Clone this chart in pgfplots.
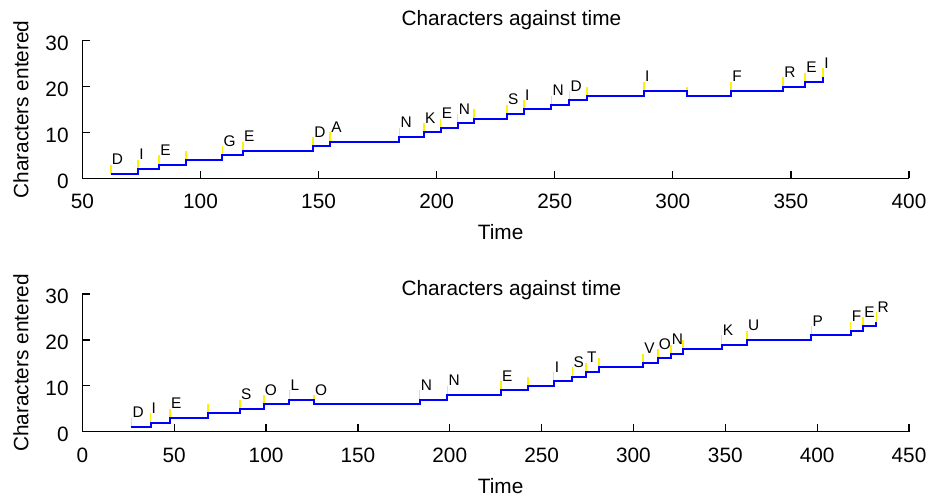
\documentclass[border=0pt]{standalone}
\usepackage{pgfplots}
\usepackage{pgfplotstable}
\pgfplotsset{compat=1.18}
\usepackage{fontspec}
\setmainfont{Liberation Sans}

\pgfplotstableread{
t n ly e lab
62.0  1  3 2 D
73.6  2  4 2 I
82.5  3  5 2 E
93.8  4  6 2 {}
109.3 5  7 2 G
118.0 6  8 2 E
147.7 7  9 2 D
154.9 8  10 2 A
184.2 9  11 2 N
194.6 10 12 2 K
201.7 11 13 2 E
208.9 12 14 2 N
215.9 13 15 2 {}
229.8 14 16 2 S
237.0 15 17 2 I
248.6 16 18 2 N
256.2 17 19 2 D
263.7 18 20 2 {}
287.8 19 21 2 I
305.9 18 20 2 {}
324.7 19 21 2 F
346.7 20 22 2 R
356.0 21 23 2 E
363.7 22 24 2 I
}\topdata

\pgfplotstableread{
t n ly e lab
26.7  1  3 2 D
37.1  2  4 2 I
47.6  3  5 2 E
68.4  4  6 2 {}
85.8  5  7 2 S
98.7  6  8 2 O
112.7 7  9 2 L
126.0 6  8 2 O
183.6 7  9 2 N
198.7 8  10 2 N
227.9 9  11 2 E
242.6 10 12 2 {}
256.5 11 13 2 I
266.8 12 14 2 S
274.1 13 15 2 T
281.2 14 16 2 {}
305.3 15 17 2 V
313.2 16 18 2 O
320.3 17 19 2 N
327.1 18 20 2 {}
348.0 19 21 2 K
361.7 20 22 2 U
396.9 21 23 2 P
418.2 22 24 2 F
425.1 23 25 2 E
432.2 24 26 2 R
}\botdata

\pgfplotsset{
  every axis title shift=0pt,
  charstyle/.style={
    scale only axis, width=413.3bp, height=68.8bp,
    ymin=0, ymax=30, ytick={0,10,20,30},
    axis x line*=bottom, axis y line*=left,
    axis line style={line width=0.6bp, black},
    tick style={line width=0.6bp, black},
    major tick length=3.75bp,
    clip=false,
    /pgf/number format/assume math mode=true,
    tick label style={font=\fontsize{10.4bp}{12.5bp}\selectfont},
    label style={font=\fontsize{10.4bp}{12.5bp}\selectfont},
    title style={font=\fontsize{10.4bp}{12.5bp}\selectfont},
    ylabel={Characters entered}, xlabel={Time}, title={Characters against time},
    yticklabel style={inner sep=0pt, anchor=east, xshift=-6.7bp, yshift=-1.3bp},
    xticklabel style={inner sep=0pt, anchor=north, yshift=-7.85bp},
    ylabel style={at={(axis description cs:-0.0655,0.5)}, anchor=base},
    xlabel style={at={(axis description cs:0.506,-0.447)}, anchor=base},
  },
  yellowbars/.style={draw=yellow, line width=0.8bp, mark=none, forget plot,
    quiver={u=0, v=\thisrow{e}}, -},
  lettersty/.style={draw=none, mark=none, forget plot,
    nodes near coords, point meta=explicit symbolic,
    nodes near coords style={anchor=base west, inner sep=0pt, xshift=0.4bp, text=black,
      font=\fontsize{7.7bp}{9bp}\selectfont}},
}

\begin{document}
\begin{tikzpicture}
\path[use as bounding box] (0,0) rectangle (465bp,248bp);

\begin{axis}[charstyle, at={(41.2bp,158.85bp)}, anchor=south west,
  xmin=50, xmax=400, xtick={50,100,150,200,250,300,350,400},
  title style={at={(axis description cs:0.519,1.107)}, anchor=base, yshift=0pt}]
\addplot[yellowbars] table[x=t, y=n] {\topdata};
\addplot[draw=blue, const plot, line width=1bp, mark=none] table[x=t, y=n] {\topdata};
\addplot[lettersty] table[x=t, y=ly, meta=lab] {\topdata};
\end{axis}

\begin{axis}[charstyle, at={(41.2bp,32.15bp)}, anchor=south west,
  xmin=0, xmax=450, xtick={0,50,100,150,200,250,300,350,400,450},
  title style={at={(axis description cs:0.519,0.993)}, anchor=base, yshift=0pt}]
\addplot[yellowbars] table[x=t, y=n] {\botdata};
\addplot[draw=blue, const plot, line width=1bp, mark=none] table[x=t, y=n] {\botdata};
\addplot[lettersty] table[x=t, y=ly, meta=lab] {\botdata};
\end{axis}
\end{tikzpicture}
\end{document}
